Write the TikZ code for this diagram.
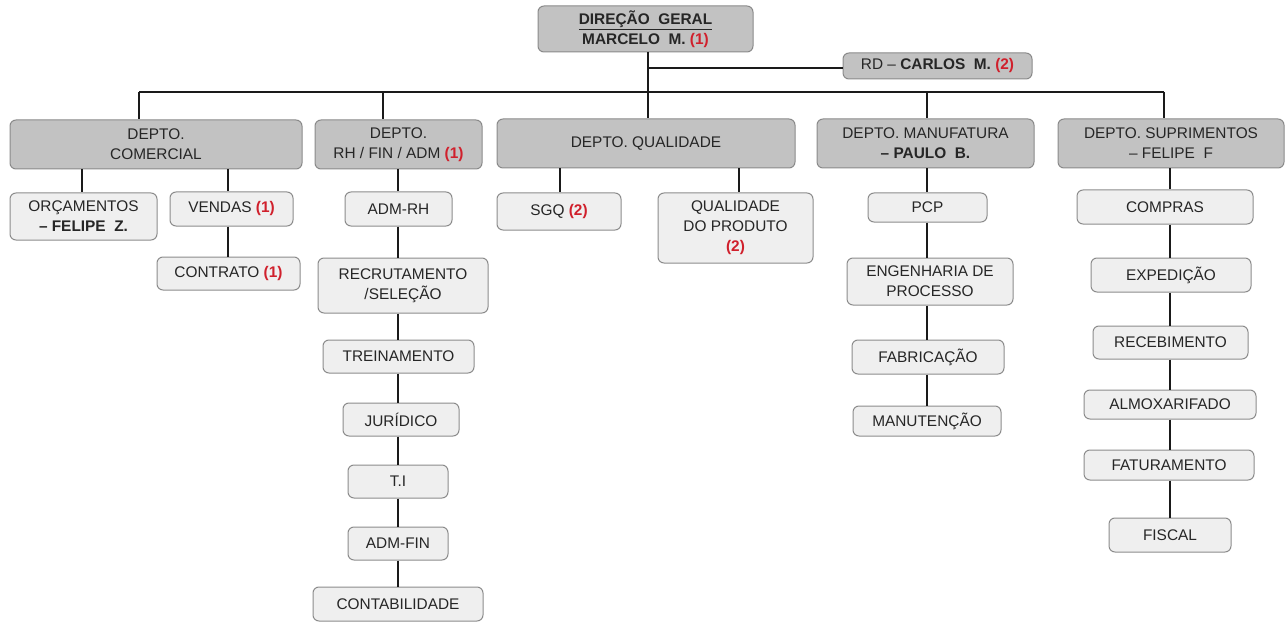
\documentclass[tikz,border=0pt]{standalone}
\usepackage{fontspec}
\setmainfont{Liberation Sans}
\definecolor{deptfill}{HTML}{C2C2C2}
\definecolor{deptline}{HTML}{8A8A8A}
\definecolor{unitfill}{HTML}{EFEFEF}
\definecolor{unitline}{HTML}{8C8C8C}
\definecolor{txt}{HTML}{262626}
\definecolor{rednum}{HTML}{D0202C}
\definecolor{linec}{HTML}{1A1A1A}
\newcommand{\rnum}[1]{\textcolor{rednum}{\textbf{#1}}}
\tikzset{
  base/.style={rounded corners=6pt, align=center, text=txt, inner sep=0pt,
    font=\fontsize{15.4}{20}\selectfont},
  dept/.style={base, draw=deptline, fill=deptfill, line width=1pt},
  unit/.style={base, draw=unitline, fill=unitfill, line width=1pt},
  link/.style={draw=linec, line width=1.2pt},
}
\begin{document}
\begin{tikzpicture}[x=1pt,y=-1pt]
\useasboundingbox (0,0) rectangle (1286,623);
% top
\node[dept, minimum width=215pt, minimum height=46pt] (dg) at (645.5,29)
  {\textbf{\underline{DIREÇÃO\ \ GERAL}}\\\textbf{MARCELO\ \ M.} \rnum{(1)}};
\node[dept, minimum width=189pt, minimum height=26pt] (rd) at (937.5,66)
  {RD -- \textbf{CARLOS\ \ M.} \rnum{(2)}};
% departments
\node[dept, minimum width=292pt, minimum height=49pt] (com) at (156,144.5) {DEPTO.\\COMERCIAL};
\node[dept, minimum width=167pt, minimum height=49pt] (rh) at (398.5,144.5) {DEPTO.\\RH / FIN / ADM \rnum{(1)}};
\node[dept, minimum width=298pt, minimum height=49pt] (qual) at (646,143.5) {DEPTO. QUALIDADE};
\node[dept, minimum width=217pt, minimum height=49pt] (manu) at (925.5,143.5) {DEPTO. MANUFATURA\\\textbf{-- PAULO\ \ B.}};
\node[dept, minimum width=226pt, minimum height=49pt] (sup) at (1171,143.5) {DEPTO. SUPRIMENTOS\\-- FELIPE\ \ F};
% comercial units
\node[unit, minimum width=147pt, minimum height=47pt] (orc) at (83.5,216.5) {ORÇAMENTOS\\\textbf{-- FELIPE\ \ Z.}};
\node[unit, minimum width=123pt, minimum height=34pt] (ven) at (231.5,209) {VENDAS \rnum{(1)}};
\node[unit, minimum width=143pt, minimum height=33pt] (con) at (228.5,273.5) {CONTRATO \rnum{(1)}};
% rh units
\node[unit, minimum width=107pt, minimum height=34pt] (admrh) at (398.5,209) {ADM-RH};
\node[unit, minimum width=170pt, minimum height=55pt] (rec) at (403,285.5) {RECRUTAMENTO\\/SELEÇÃO};
\node[unit, minimum width=151pt, minimum height=33pt] (tre) at (398.5,356.5) {TREINAMENTO};
\node[unit, minimum width=116pt, minimum height=33pt] (jur) at (401,419.5) {JURÍDICO};
\node[unit, minimum width=100pt, minimum height=33pt] (ti) at (398,481.5) {T.I};
\node[unit, minimum width=100pt, minimum height=33pt] (admfin) at (398,543.5) {ADM-FIN};
\node[unit, minimum width=170pt, minimum height=34pt] (cont) at (398,604) {CONTABILIDADE};
% qualidade units
\node[unit, minimum width=124pt, minimum height=37pt] (sgq) at (559,211.5) {SGQ \rnum{(2)}};
\node[unit, minimum width=155pt, minimum height=70pt] (qdp) at (735.5,228) {QUALIDADE\\DO PRODUTO\\\rnum{(2)}};
% manufatura units
\node[unit, minimum width=119pt, minimum height=29pt] (pcp) at (927.5,207.5) {PCP};
\node[unit, minimum width=166pt, minimum height=47pt] (eng) at (930,281.5) {ENGENHARIA DE\\PROCESSO};
\node[unit, minimum width=152pt, minimum height=34pt] (fab) at (928,357) {FABRICAÇÃO};
\node[unit, minimum width=148pt, minimum height=30pt] (man) at (927,421) {MANUTENÇÃO};
% suprimentos units
\node[unit, minimum width=176pt, minimum height=34pt] (comp) at (1165,207) {COMPRAS};
\node[unit, minimum width=160pt, minimum height=34pt] (exp) at (1171,275) {EXPEDIÇÃO};
\node[unit, minimum width=155pt, minimum height=33pt] (recb) at (1170.5,342.5) {RECEBIMENTO};
\node[unit, minimum width=172pt, minimum height=29pt] (alm) at (1170,404.5) {ALMOXARIFADO};
\node[unit, minimum width=170pt, minimum height=30pt] (fat) at (1169,465) {FATURAMENTO};
\node[unit, minimum width=122pt, minimum height=34pt] (fis) at (1170,535) {FISCAL};
% column coordinates
\coordinate (xdg) at (648,0);
\coordinate (xcom) at (139,0);
\coordinate (xrht) at (383,0);
\coordinate (xman) at (927,0);
\coordinate (xsupt) at (1164,0);
\coordinate (xorc) at (82,0);
\coordinate (xven) at (228,0);
\coordinate (xrh) at (398,0);
\coordinate (xsgq) at (560,0);
\coordinate (xqdp) at (739,0);
\coordinate (xsup) at (1170,0);
\coordinate (bus) at (648,92);
\coordinate (rdj) at (648,68);
% top connectors
\draw[link] (dg.south -| xdg) -- (bus);
\draw[link] (rdj) -- (rdj -| rd.west);
\draw[link] (bus -| xcom) -- (bus -| xsupt);
\draw[link] (bus -| xcom) -- (com.north -| xcom);
\draw[link] (bus -| xrht) -- (rh.north -| xrht);
\draw[link] (bus -| xdg) -- (qual.north -| xdg);
\draw[link] (bus -| xman) -- (manu.north -| xman);
\draw[link] (bus -| xsupt) -- (sup.north -| xsupt);
% comercial
\draw[link] (com.south -| xorc) -- (orc.north -| xorc);
\draw[link] (com.south -| xven) -- (ven.north -| xven);
\draw[link] (ven.south -| xven) -- (con.north -| xven);
% rh chain
\draw[link] (rh.south -| xrh) -- (admrh.north -| xrh);
\draw[link] (admrh.south -| xrh) -- (rec.north -| xrh);
\draw[link] (rec.south -| xrh) -- (tre.north -| xrh);
\draw[link] (tre.south -| xrh) -- (jur.north -| xrh);
\draw[link] (jur.south -| xrh) -- (ti.north -| xrh);
\draw[link] (ti.south -| xrh) -- (admfin.north -| xrh);
\draw[link] (admfin.south -| xrh) -- (cont.north -| xrh);
% qualidade
\draw[link] (qual.south -| xsgq) -- (sgq.north -| xsgq);
\draw[link] (qual.south -| xqdp) -- (qdp.north -| xqdp);
% manufatura chain
\draw[link] (manu.south -| xman) -- (pcp.north -| xman);
\draw[link] (pcp.south -| xman) -- (eng.north -| xman);
\draw[link] (eng.south -| xman) -- (fab.north -| xman);
\draw[link] (fab.south -| xman) -- (man.north -| xman);
% suprimentos chain
\draw[link] (sup.south -| xsup) -- (comp.north -| xsup);
\draw[link] (comp.south -| xsup) -- (exp.north -| xsup);
\draw[link] (exp.south -| xsup) -- (recb.north -| xsup);
\draw[link] (recb.south -| xsup) -- (alm.north -| xsup);
\draw[link] (alm.south -| xsup) -- (fat.north -| xsup);
\draw[link] (fat.south -| xsup) -- (fis.north -| xsup);
\end{tikzpicture}
\end{document}
